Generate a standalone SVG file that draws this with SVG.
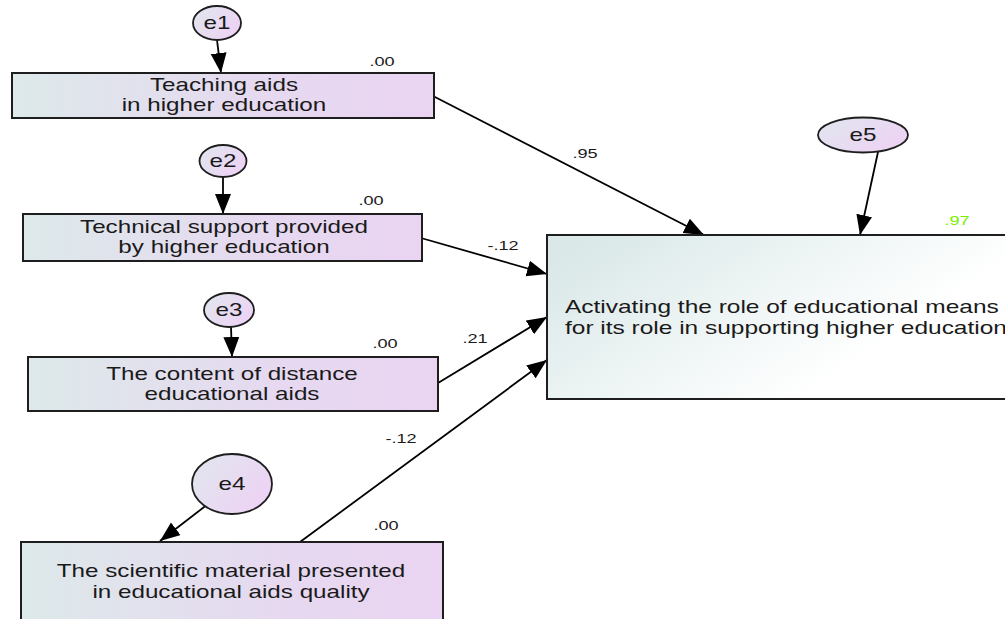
<svg xmlns="http://www.w3.org/2000/svg" width="1005" height="619" viewBox="0 0 1005 619">
  <style>
    .box { stroke: #1e1e1e; stroke-width: 2; fill: url(#boxGrad); }
    .ell { stroke: #1e1e1e; stroke-width: 1.8; fill: url(#ellGrad); }
    .edge { stroke: #000; stroke-width: 1.8; fill: none; marker-end: url(#arrow); }
    .t { font-family: "Liberation Sans", Arial, sans-serif; font-size: 18px; fill: #1a1a1a; text-anchor: middle; }
    .ts { font-family: "Liberation Sans", Arial, sans-serif; font-size: 18px; fill: #1a1a1a; text-anchor: start; }
    .lbl { font-family: "Liberation Sans", Arial, sans-serif; font-size: 13.5px; fill: #1a1a1a; text-anchor: middle; }
    .grn { fill: #7cf000; }
  </style>
  <defs>
    <linearGradient id="boxGrad" x1="0" y1="0" x2="1" y2="0">
      <stop offset="0" stop-color="#dde9ea"/>
      <stop offset="0.6" stop-color="#e6d9f0"/>
      <stop offset="1" stop-color="#ead4f2"/>
    </linearGradient>
    <linearGradient id="ellGrad" x1="0" y1="0" x2="1" y2="0.6">
      <stop offset="0" stop-color="#e0e7ee"/>
      <stop offset="1" stop-color="#edd3f4"/>
    </linearGradient>
    <linearGradient id="tgtGrad" x1="0" y1="0.2" x2="0.75" y2="0.6">
      <stop offset="0" stop-color="#dae8e8"/>
      <stop offset="1" stop-color="#ffffff"/>
    </linearGradient>
    <marker id="arrow" markerUnits="userSpaceOnUse" markerWidth="22" markerHeight="18" refX="20" refY="8" orient="auto">
      <path d="M0,0 L20,8 L0,16 z" fill="#000"/>
    </marker>
  </defs>

  <g id="connectors">
    <line class="edge" x1="217" y1="40" x2="221" y2="73"/>
    <line class="edge" x1="223" y1="177" x2="223" y2="214"/>
    <line class="edge" x1="231" y1="327" x2="232" y2="357"/>
    <line class="edge" x1="208" y1="504" x2="160" y2="541"/>
    <line class="edge" x1="878" y1="152" x2="860" y2="235"/>
    <line class="edge" x1="433" y1="96" x2="704" y2="235"/>
    <line class="edge" x1="421" y1="238" x2="547" y2="274"/>
    <line class="edge" x1="438" y1="383" x2="547" y2="317"/>
    <line class="edge" x1="300" y1="542" x2="547" y2="360"/>
    <text class="lbl" transform="translate(585,158) scale(1.345,1)">.95</text>
    <text class="lbl" transform="translate(503,250) scale(1.345,1)">-.12</text>
    <text class="lbl" transform="translate(475,343) scale(1.345,1)">.21</text>
    <text class="lbl" transform="translate(401,443) scale(1.345,1)">-.12</text>
  </g>

  <g id="box1">
    <rect class="box" x="12" y="73" width="422" height="45"/>
    <text class="t" transform="translate(224,91) scale(1.345,1)">Teaching aids</text>
    <text class="t" transform="translate(224,111) scale(1.345,1)">in higher education</text>
    <text class="lbl" transform="translate(382,66) scale(1.345,1)">.00</text>
  </g>

  <g id="box2">
    <rect class="box" x="23" y="214" width="399" height="47"/>
    <text class="t" transform="translate(224,233) scale(1.345,1)">Technical support provided</text>
    <text class="t" transform="translate(224,253) scale(1.345,1)">by higher education</text>
    <text class="lbl" transform="translate(371,205) scale(1.345,1)">.00</text>
  </g>

  <g id="box3">
    <rect class="box" x="28" y="357" width="410" height="54"/>
    <text class="t" transform="translate(232,380) scale(1.345,1)">The content of distance</text>
    <text class="t" transform="translate(232,400) scale(1.345,1)">educational aids</text>
    <text class="lbl" transform="translate(385,348) scale(1.345,1)">.00</text>
  </g>

  <g id="box4">
    <rect class="box" x="21" y="542" width="422" height="90"/>
    <text class="t" transform="translate(231,577) scale(1.345,1)">The scientific material presented</text>
    <text class="t" transform="translate(231,598) scale(1.345,1)">in educational aids quality</text>
    <text class="lbl" transform="translate(386,530) scale(1.345,1)">.00</text>
  </g>

  <g id="target">
    <rect x="547" y="235" width="470" height="164" stroke="#1e1e1e" stroke-width="2" fill="url(#tgtGrad)"/>
    <text class="ts" transform="translate(565,313) scale(1.36,1)">Activating the role of educational means</text>
    <text class="ts" transform="translate(565,334) scale(1.36,1)">for its role in supporting higher education</text>
    <text class="lbl grn" transform="translate(957,225) scale(1.345,1)">.97</text>
  </g>

  <g id="e1">
    <ellipse class="ell" cx="217" cy="23" rx="24" ry="17"/>
    <text class="t" font-size="17" transform="translate(217,29) scale(1.345,1)">e1</text>
  </g>
  <g id="e2">
    <ellipse class="ell" cx="223" cy="161" rx="23.5" ry="16"/>
    <text class="t" font-size="17" transform="translate(223,167) scale(1.345,1)">e2</text>
  </g>
  <g id="e3">
    <ellipse class="ell" cx="229" cy="310" rx="25" ry="17"/>
    <text class="t" font-size="17" transform="translate(229,316) scale(1.345,1)">e3</text>
  </g>
  <g id="e4">
    <ellipse class="ell" cx="232" cy="484" rx="40" ry="30"/>
    <text class="t" font-size="17" transform="translate(232,490) scale(1.345,1)">e4</text>
  </g>
  <g id="e5">
    <ellipse class="ell" cx="863" cy="135" rx="45" ry="17.5"/>
    <text class="t" font-size="17" transform="translate(863,141) scale(1.345,1)">e5</text>
  </g>
</svg>
